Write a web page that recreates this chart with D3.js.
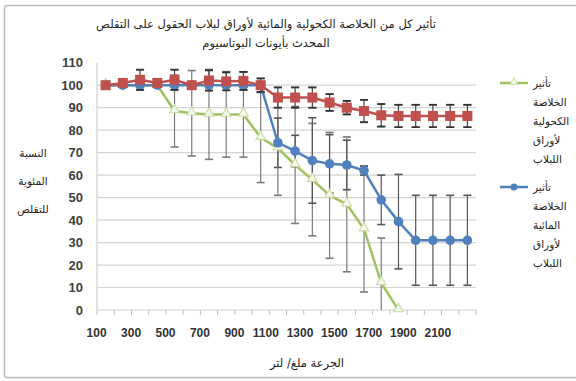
<!DOCTYPE html>
<html>
<head>
<meta charset="utf-8">
<script src="https://cdn.jsdelivr.net/npm/d3@7"></script>
<style>
  body { margin: 0; background: #fff; }
  svg { display: block; }
</style>
</head>
<body>
<svg id="chart" width="576" height="381"></svg>
<script>
// Doses (mg/L) on the category axis
const doses = [100, 200, 300, 400, 500, 600, 700, 800, 900, 1000, 1100,
               1200, 1300, 1400, 1500, 1600, 1700, 1800, 1900, 2000, 2100, 2200];
const xTickLabels = ["100", "300", "500", "700", "900", "1100", "1300", "1500", "1700", "1900", "2100"];
const yTicks = [0, 10, 20, 30, 40, 50, 60, 70, 80, 90, 100, 110];

// Control contraction (KCl only), percent
const control    = [100, 101, 102.4, 101, 102.4, 100, 102.1, 101.7, 101.9, 100, 94.5,
                    94.5, 94.5, 92.3, 90, 88.5, 86.6, 86.3, 86.3, 86.3, 86.3, 86.3];
const controlErr = [1, 1, 4.5, 1, 4.5, 1, 4.5, 4, 4, 3, 4.5, 4.5, 4.5, 3.7, 3, 5, 5, 5, 5, 5, 5, 5];

// Alcoholic extract
const alcoholic    = [100, 100, 100, 100, 88.5, 87.5, 87, 87, 87, 76.7, 72, 64.5, 58, 51, 47, 36, 12, 0];
const alcoholicErr = [0, 0, 0, 0, 16, 19, 20, 19, 19, 20, 21, 26, 25, 28, 30, 28, 20, 0];

// Aqueous extract
const aqueous    = [100, 100, 100, 100, 100, 100, 100, 100, 100, 100, 74.4,
                    70.7, 66.5, 65, 64.5, 62, 49, 39.3, 31, 31, 31, 31];
const aqueousErr = [1, 1, 1, 1, 1, 1, 1, 1, 1, 1, 11, 7, 19, 13, 11, 2, 11, 21, 20, 20, 20, 20];

const titleLines = ["تأثير كل من الخلاصة الكحولية والمائية لأوراق لبلاب الحقول على التقلص",
                    "المحدث بأيونات البوتاسيوم"];
const yTitleLines = ["النسبة", "المئوية", "للتقلص"];
const xTitle = "الجرعة ملغ/ لتر";
const legendAlcoholic = ["تأثير", "الخلاصة", "الكحولية", "لأوراق", "اللبلاب"];
const legendAqueous   = ["تأثير", "الخلاصة", "المائية", "لأوراق", "اللبلاب"];

const colors = { control: "#c0504d", aqueous: "#4f81bd", alcoholic: "#a2c262" };
const arabicFont = "'DejaVu Sans', sans-serif";

const svg = d3.select("#chart");

// Outer chart frame
svg.append("rect")
  .attr("x", 4.5).attr("y", 5.5).attr("width", 576).attr("height", 372)
  .attr("rx", 3).attr("fill", "#fff").attr("stroke", "#bdbdbd").attr("stroke-width", 1.5);

const plot = { left: 97, right: 476, top: 62.7, bottom: 310 };

const x = d3.scaleBand().domain(doses).range([plot.left, plot.right]);
const y = d3.scaleLinear().domain([0, 110]).range([plot.bottom, plot.top]);
const cx = d => x(d) + x.bandwidth() / 2;

// Horizontal gridlines
svg.append("g").selectAll("line")
  .data(yTicks.filter(t => t > 0 && t < 110))
  .join("line")
  .attr("x1", plot.left).attr("x2", plot.right)
  .attr("y1", d => y(d)).attr("y2", d => y(d))
  .attr("stroke", "#d4d4d4").attr("stroke-width", 1.2);

// Y axis line and labels
svg.append("line")
  .attr("x1", plot.left).attr("x2", plot.left)
  .attr("y1", plot.top).attr("y2", plot.bottom)
  .attr("stroke", "#cfcfcf").attr("stroke-width", 1.2);

const yAxis = d3.axisLeft(y).tickValues(yTicks).tickSize(0).tickPadding(14);
svg.append("g")
  .attr("transform", `translate(${plot.left},0)`)
  .call(yAxis)
  .call(g => g.select(".domain").remove())
  .selectAll("text")
  .attr("font-family", "'Liberation Sans', Arial, sans-serif")
  .attr("font-size", 13).attr("font-weight", "bold").attr("fill", "#404040");

// X axis: baseline, ticks between categories, labels anchored at category centre
svg.append("line")
  .attr("x1", plot.left).attr("x2", plot.right)
  .attr("y1", plot.bottom).attr("y2", plot.bottom)
  .attr("stroke", "#cfcfcf").attr("stroke-width", 1.2);

const boundaries = doses.map(d => x(d)).concat([plot.right]);
svg.append("g").selectAll("line")
  .data(boundaries)
  .join("line")
  .attr("x1", d => d).attr("x2", d => d)
  .attr("y1", plot.bottom).attr("y2", plot.bottom + 5)
  .attr("stroke", "#bfbfbf").attr("stroke-width", 1);

svg.append("g").selectAll("text")
  .data(xTickLabels)
  .join("text")
  .attr("x", d => cx(+d) + 1)
  .attr("y", plot.bottom + 27)
  .attr("text-anchor", "end")
  .attr("font-family", "'Liberation Sans', Arial, sans-serif")
  .attr("font-size", 12).attr("font-weight", "bold").attr("fill", "#333")
  .text(d => d);

// Error bars
function errorBars(values, errs, color) {
  const g = svg.append("g").attr("stroke", color).attr("stroke-width", 1.2);
  values.forEach((v, i) => {
    const e = errs[i];
    if (!e) return;
    const xc = cx(doses[i]);
    const hi = y(Math.min(110, v + e));
    const lo = y(Math.max(0, v - e));
    g.append("line").attr("x1", xc).attr("x2", xc).attr("y1", hi).attr("y2", lo);
    if (v + e <= 110) g.append("line").attr("x1", xc - 4).attr("x2", xc + 4).attr("y1", hi).attr("y2", hi).attr("stroke-width", 1.6);
    if (v - e >= 0) g.append("line").attr("x1", xc - 4).attr("x2", xc + 4).attr("y1", lo).attr("y2", lo).attr("stroke-width", 1.6);
  });
}
errorBars(alcoholic, alcoholicErr, "#7a7a7a");
errorBars(aqueous, aqueousErr, "#555");
errorBars(control, controlErr, "#444");

const line = d3.line().x((d, i) => cx(doses[i])).y(d => y(d));

// Alcoholic extract series: light green line, faint open triangles
svg.append("path").datum(alcoholic)
  .attr("d", line).attr("fill", "none")
  .attr("stroke", colors.alcoholic).attr("stroke-width", 2.5);
const tri = d3.symbol().type(d3.symbolTriangle).size(40);
svg.append("g").selectAll("path")
  .data(alcoholic)
  .join("path")
  .attr("d", tri)
  .attr("transform", (d, i) => `translate(${cx(doses[i])},${y(d) - 1})`)
  .attr("fill", "#f4f8ec").attr("stroke", "#c9dca4").attr("stroke-width", 1.1);

// Aqueous extract series: blue line, filled circles
svg.append("path").datum(aqueous)
  .attr("d", line).attr("fill", "none")
  .attr("stroke", colors.aqueous).attr("stroke-width", 2.5);
svg.append("g").selectAll("circle")
  .data(aqueous)
  .join("circle")
  .attr("cx", (d, i) => cx(doses[i])).attr("cy", d => y(d))
  .attr("r", 4.8).attr("fill", colors.aqueous);

// Control series: red line, filled squares
svg.append("path").datum(control)
  .attr("d", line).attr("fill", "none")
  .attr("stroke", colors.control).attr("stroke-width", 2.5);
svg.append("g").selectAll("rect")
  .data(control)
  .join("rect")
  .attr("x", (d, i) => cx(doses[i]) - 5).attr("y", d => y(d) - 5)
  .attr("width", 10).attr("height", 10)
  .attr("fill", colors.control);

// Caps of control error bars stay visible over the markers
svg.append("g").attr("stroke", "#333").attr("stroke-width", 1.6)
  .selectAll("g")
  .data(control.map((v, i) => ({ v, e: controlErr[i], i })).filter(d => d.e >= 3))
  .join(enter => {
    const g = enter.append("g");
    g.append("line")
      .attr("x1", d => cx(doses[d.i]) - 4).attr("x2", d => cx(doses[d.i]) + 4)
      .attr("y1", d => y(d.v + d.e)).attr("y2", d => y(d.v + d.e));
    g.append("line")
      .attr("x1", d => cx(doses[d.i]) - 4).attr("x2", d => cx(doses[d.i]) + 4)
      .attr("y1", d => y(d.v - d.e)).attr("y2", d => y(d.v - d.e));
    return g;
  });

// Title
svg.append("g").selectAll("text")
  .data(titleLines)
  .join("text")
  .attr("x", 266).attr("y", (d, i) => 28 + i * 19)
  .attr("text-anchor", "middle")
  .attr("font-family", arabicFont).attr("font-size", 11.5).attr("fill", "#222")
  .text(d => d);

// Y axis title
svg.append("g").selectAll("text")
  .data(yTitleLines)
  .join("text")
  .attr("x", 33).attr("y", (d, i) => 157 + i * 28)
  .attr("text-anchor", "middle")
  .attr("font-family", arabicFont).attr("font-size", 10.5).attr("fill", "#222")
  .text(d => d);

// X axis title
svg.append("text")
  .attr("x", 307).attr("y", 367)
  .attr("text-anchor", "middle")
  .attr("font-family", arabicFont).attr("font-size", 11.5).attr("fill", "#222")
  .text(xTitle);

// Legend
function legendEntry(lines, y0, color, marker) {
  const g = svg.append("g");
  g.append("line").attr("x1", 500).attr("x2", 528).attr("y1", y0).attr("y2", y0)
    .attr("stroke", color).attr("stroke-width", 2.5);
  if (marker === "circle") {
    g.append("circle").attr("cx", 514).attr("cy", y0).attr("r", 3.5).attr("fill", color);
  } else {
    g.append("path").attr("d", d3.symbol().type(d3.symbolTriangle).size(25))
      .attr("transform", `translate(514,${y0 - 1})`)
      .attr("fill", "#f4f8ec").attr("stroke", "#c9dca4").attr("stroke-width", 1);
  }
  g.selectAll("text").data(lines).join("text")
    .attr("x", 533).attr("y", (d, i) => y0 + 4 + i * 19)
    .attr("text-anchor", "start")
    .attr("direction", "ltr")
    .attr("font-family", arabicFont).attr("font-size", 10.5).attr("fill", "#222")
    .text(d => d);
}
legendEntry(legendAlcoholic, 83, colors.alcoholic, "triangle");
legendEntry(legendAqueous, 187, colors.aqueous, "circle");
</script>
</body>
</html>
